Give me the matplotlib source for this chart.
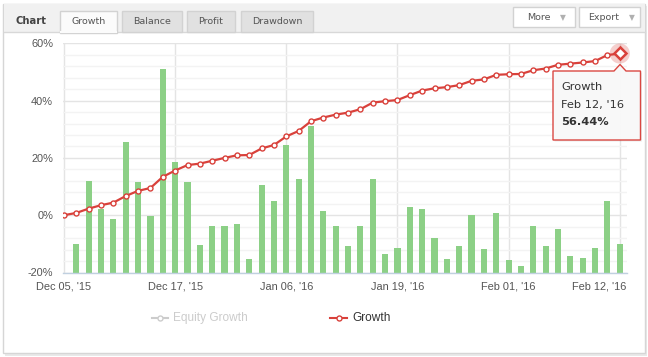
import matplotlib
matplotlib.use("Agg")
import matplotlib.pyplot as plt
from matplotlib.patches import Rectangle, Polygon
from matplotlib.lines import Line2D
import matplotlib.transforms as mtransforms
import numpy as np

# ---------------- data ----------------
x_labels = ["Dec 05, '15", "Dec 17, '15", "Jan 06, '16", "Jan 19, '16", "Feb 01, '16", "Feb 12, '16"]
label_positions = [0, 9, 18, 27, 36, 45]

growth = [0.0, 0.8, 2.3, 3.5, 4.4, 6.7, 8.5, 9.5, 13.4, 15.6, 17.5, 18.0, 19.0, 20.0,
          20.9, 21.0, 23.3, 24.5, 27.5, 29.4, 32.8, 34.1, 35.1, 35.8, 37.0, 39.3, 39.8,
          40.2, 41.9, 43.5, 44.3, 44.7, 45.4, 46.9, 47.4, 49.0, 49.2, 49.3, 50.6, 51.2,
          52.5, 52.9, 53.3, 53.8, 55.9, 56.44]

# daily columns (drawn from the bottom of the axis), days 1..45
bar_values = [-10.0, 12.0, 2.1, -1.2, 25.4, 11.6, -0.2, 51.2, 18.7, 11.6, -10.4, -3.9,
              -3.9, -2.9, -15.4, 10.4, 4.8, 24.4, 12.5, 31.0, 1.6, -3.6, -10.9, -3.9,
              12.5, -13.4, -11.3, 3.0, 2.3, -7.8, -15.4, -10.9, 0.0, -11.9, 0.9, -15.8,
              -17.9, -3.6, -10.6, -4.9, -14.1, -14.8, -11.3, 4.8, -10.2]

y_ticks = [-20, 0, 20, 40, 60]
y_tick_labels = ["-20%", "0%", "20%", "40%", "60%"]

tabs = ["Growth", "Balance", "Profit", "Drawdown"]

# ---------------- figure ----------------
W, H, DPI = 648, 357, 100
fig = plt.figure(figsize=(W / DPI, H / DPI), dpi=DPI)
fig.patch.set_facecolor("white")

def fx(px):
    return px / W

def fy(py):
    return 1 - py / H

def rect(x0, y0, x1, y1, **kw):
    r = Rectangle((fx(x0), fy(y1)), (x1 - x0) / W, (y1 - y0) / H,
                  transform=fig.transFigure, **kw)
    fig.add_artist(r)
    return r

def ftext(x, y, s, **kw):
    return fig.text(fx(x), fy(y), s, **kw)

# outer panel with shadow
rect(5, 6, 647, 355.5, facecolor="#e9e9e9", edgecolor="none", zorder=0)
rect(3, 4, 645, 352.5, facecolor="white", edgecolor="#d6d6d6", lw=1, zorder=0.5)
# tab bar
rect(3.5, 4.5, 644.5, 32, facecolor="#f1f1f1", edgecolor="none", zorder=1)
fig.add_artist(Line2D([fx(3.5), fx(644.5)], [fy(32), fy(32)], transform=fig.transFigure,
                      color="#d8d8d8", lw=1, zorder=1.2))
ftext(15, 21.5, "Chart", fontsize=7.2, fontweight="bold", color="#444444",
      family="DejaVu Sans", va="center", ha="left", zorder=3)

tab_bounds = [(60, 117), (122, 182), (187, 235), (241, 313)]
for name, (a, b) in zip(tabs, tab_bounds):
    active = name == "Growth"
    rect(a, 11, b, 32.6 if active else 32, facecolor="#fbfbfb" if active else "#e1e1e1",
         edgecolor="#d2d2d2", lw=1, zorder=2)
    if active:
        fig.add_artist(Line2D([fx(a + 0.8), fx(b - 0.8)], [fy(32.2), fy(32.2)],
                              transform=fig.transFigure, color="#fbfbfb", lw=1.5, zorder=2.5))
    ftext((a + b) / 2, 21.8, name, fontsize=6.8, color="#555555", family="DejaVu Sans",
          va="center", ha="center", zorder=3)

# More / Export buttons
for name, (a, b), tx, tri in [("More", (513, 575), 527, 563), ("Export", (579, 640), 588, 632)]:
    rect(a, 7.5, b, 27, facecolor="white", edgecolor="#d2d2d2", lw=1, zorder=2)
    ftext(tx, 17.8, name, fontsize=6.8, color="#555555", family="DejaVu Sans",
          va="center", ha="left", zorder=3)
    ftext(tri, 17.5, "\u25BC", fontsize=5.5, color="#b0b0b0", family="DejaVu Sans",
          va="center", ha="center", zorder=3)

# ---------------- chart axes ----------------
ax = fig.add_axes([fx(63), fy(272.5), (627 - 63) / W, (272.5 - 43.3) / H])
ax.set_facecolor("none")
ax.set_zorder(5)
idx = np.arange(len(growth))
bar_idx = np.arange(1, len(bar_values) + 1)

ax.set_xlim(-0.081, 45.587)
ax.set_ylim(-20, 60)

ax.set_yticks(y_ticks)
ax.set_yticklabels(y_tick_labels)
ax.set_yticks(np.arange(-20, 61, 4), minor=True)
ax.set_xticks(label_positions)
ax.set_xticklabels(x_labels)
ax.grid(which="major", axis="y", color="#e4e4e4", lw=1, zorder=0)
ax.grid(which="minor", axis="y", color="#f3f3f3", lw=1, zorder=0)
ax.grid(which="major", axis="x", color="#e4e4e4", lw=1, zorder=0)
ax.set_axisbelow(True)
ax.tick_params(which="both", length=0)
ax.tick_params(axis="y", pad=7.2, labelsize=7.9, labelcolor="#555555")
ax.tick_params(axis="x", pad=6.5, labelsize=7.9, labelcolor="#555555")
for lab in ax.get_xticklabels() + ax.get_yticklabels():
    lab.set_family("Liberation Sans")
for s in ["top", "left", "right"]:
    ax.spines[s].set_visible(False)
ax.spines["bottom"].set_color("#c0d0e0")
ax.spines["bottom"].set_linewidth(1)

last = ax.get_xticklabels()[-1]
last.set_horizontalalignment("right")
last.set_transform(last.get_transform() +
                   mtransforms.ScaledTranslation(6.5 / DPI, 0, fig.dpi_scale_trans))

# columns from the bottom of the axis
ax.bar(bar_idx, np.array(bar_values) + 20, bottom=-20, width=0.5,
       color="#8cd086", edgecolor="none", zorder=2)

# growth line
ax.plot(idx, growth, color="#d9413b", lw=1.6, marker="o", ms=3.6,
        mfc="white", mec="#d9413b", mew=1.0, zorder=4)
# hovered last point
ax.scatter([idx[-1]], [growth[-1]], s=210, color="#d9413b", alpha=0.25,
           edgecolors="none", zorder=5, clip_on=False)
ax.plot([idx[-1]], [growth[-1]], marker="D", ms=6.0, mfc="white", mec="#d9413b",
        mew=1.8, zorder=6, clip_on=False)

# ---------------- tooltip ----------------
pts = [(553, 71), (614, 71), (620, 64.5), (626, 71), (640.5, 71), (640.5, 140), (553, 140)]
shadow = Polygon([(fx(x + 1.5), fy(y + 1.5)) for x, y in pts], closed=True,
                 transform=fig.transFigure, facecolor="#000000", alpha=0.08,
                 edgecolor="none", zorder=9)
fig.add_artist(shadow)
tip = Polygon([(fx(x), fy(y)) for x, y in pts], closed=True, transform=fig.transFigure,
              facecolor="#f9f9f9", edgecolor="#d9413b", lw=1, zorder=10, alpha=0.97)
fig.add_artist(tip)
ftext(561, 87, "Growth", fontsize=8.2, color="#333333", family="DejaVu Sans",
      va="center", ha="left", zorder=11)
ftext(561, 104.5, "Feb 12, '16", fontsize=8.2, color="#333333", family="DejaVu Sans",
      va="center", ha="left", zorder=11)
ftext(561, 122, f"{growth[-1]:.2f}%", fontsize=8.2, color="#333333", family="DejaVu Sans",
      fontweight="bold", va="center", ha="left", zorder=11)

# ---------------- legend ----------------
ly = 318.3
fig.add_artist(Line2D([fx(152), fx(168)], [fy(ly), fy(ly)], transform=fig.transFigure,
                      color="#cccccc", lw=1.5, marker="o", markevery=[0],
                      ms=0, zorder=3))
fig.add_artist(Line2D([fx(160)], [fy(ly)], transform=fig.transFigure, color="#cccccc",
                      marker="o", ms=3.6, mfc="white", mec="#cccccc", mew=1, lw=0, zorder=4))
ftext(172.7, ly, "Equity Growth", fontsize=8.6, color="#cccccc", family="Liberation Sans",
      va="center", ha="left")
fig.add_artist(Line2D([fx(330), fx(347)], [fy(ly), fy(ly)], transform=fig.transFigure,
                      color="#d9413b", lw=1.5, zorder=3))
fig.add_artist(Line2D([fx(338.5)], [fy(ly)], transform=fig.transFigure, color="#d9413b",
                      marker="o", ms=3.6, mfc="white", mec="#d9413b", mew=1, lw=0, zorder=4))
ftext(352.7, ly, "Growth", fontsize=8.6, color="#333333", family="Liberation Sans",
      va="center", ha="left")

fig.savefig("out.png", dpi=DPI)
